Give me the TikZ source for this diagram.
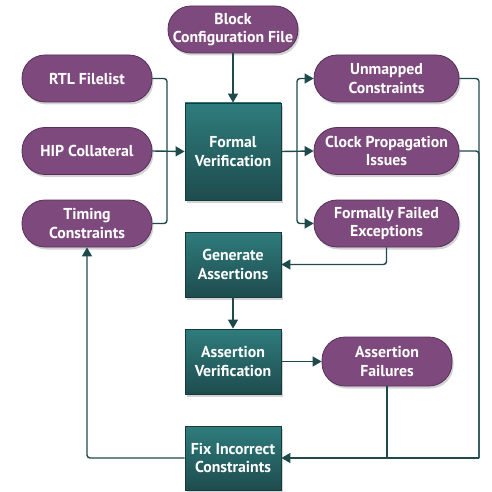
\documentclass[tikz,border=0pt]{standalone}
\usepackage{fontspec}
\setmainfont{PT Sans}
\usetikzlibrary{shadows,arrows.meta,positioning}
\definecolor{pur}{HTML}{7E4A7E}
\definecolor{purd}{HTML}{56305A}
\definecolor{tealt}{HTML}{2F7C7D}
\definecolor{tealb}{HTML}{1E4C4E}
\definecolor{teald}{HTML}{163B3C}
\definecolor{conncol}{HTML}{1F4A4B}
\begin{document}
\begin{tikzpicture}[x=1pt,y=-1pt,
  txt/.style={text=white,align=center,font=\fontsize{15.8}{18.5}\selectfont\bfseries},
  pill/.style={txt,rounded corners=23pt,fill=pur,draw=purd,line width=0.8pt,minimum width=130pt,minimum height=47pt,inner sep=0pt,
     drop shadow={opacity=0.35,shadow xshift=1.5pt,shadow yshift=-2.5pt}},
  box/.style={txt,draw=teald,line width=0.8pt,top color=tealt,bottom color=tealb,minimum width=96pt,inner sep=0pt,
     drop shadow={opacity=0.35,shadow xshift=2pt,shadow yshift=-3pt}},
  conn/.style={draw=conncol,line width=1.4pt,rounded corners=3pt},
  arr/.style={conn,-{Triangle[length=9pt,width=10pt]}}
]
\useasboundingbox (0,0) rectangle (491,492);
\node[pill] (bcf) at (233,29.5) {Block\\Configuration File};
\node[pill] (rtl) at (87,78.5) {RTL Filelist};
\node[pill] (hip) at (87,151) {HIP Collateral};
\node[pill] (tim) at (87,223.5) {Timing\\Constraints};
\node[box,minimum height=97pt] (fv) at (233,151.5) {Formal\\Verification};
\node[pill,minimum width=145pt] (unm) at (386.5,78.5) {Unmapped\\Constraints};
\node[pill,minimum width=145pt] (clk) at (386.5,151) {Clock Propagation\\Issues};
\node[pill,minimum width=145pt] (ffe) at (386.5,223.5) {Formally Failed\\Exceptions};
\node[box,minimum height=65pt] (gen) at (233,264.5) {Generate\\Assertions};
\node[box,minimum height=65pt] (av) at (233,361.5) {Assertion\\Verification};
\node[box,minimum height=64pt] (fix) at (233,458) {Fix Incorrect\\Constraints};
\node[pill,minimum height=49pt] (af) at (387,361.5) {Assertion\\Failures};
\coordinate (j1) at (167,151);
\coordinate (j2) at (297,151);
\coordinate (j3) at (479,458);
\draw[arr] (bcf) -- (fv);
\draw[conn] (rtl.east) -| (j1);
\draw[conn] (tim.east) -| (j1);
\draw[arr] (hip.east) -- (fv.west);
\draw[arr] (fv.east) -- (clk.west);
\draw[arr] (j2) |- (unm.west);
\draw[arr] (j2) |- (ffe.west);
\draw[conn] (unm.east) -| (j3);
\draw[conn] (clk.east) -| (j3);
\draw[arr] (j3) -- (fix.east);
\draw[arr] (ffe.south) |- (gen.east);
\draw[arr] (gen) -- (av);
\draw[arr] (av) -- (af);
\draw[conn] (af.south) -- (af.south |- fix.east);
\draw[arr] (fix.west) -| (tim.south);
\end{tikzpicture}
\end{document}
